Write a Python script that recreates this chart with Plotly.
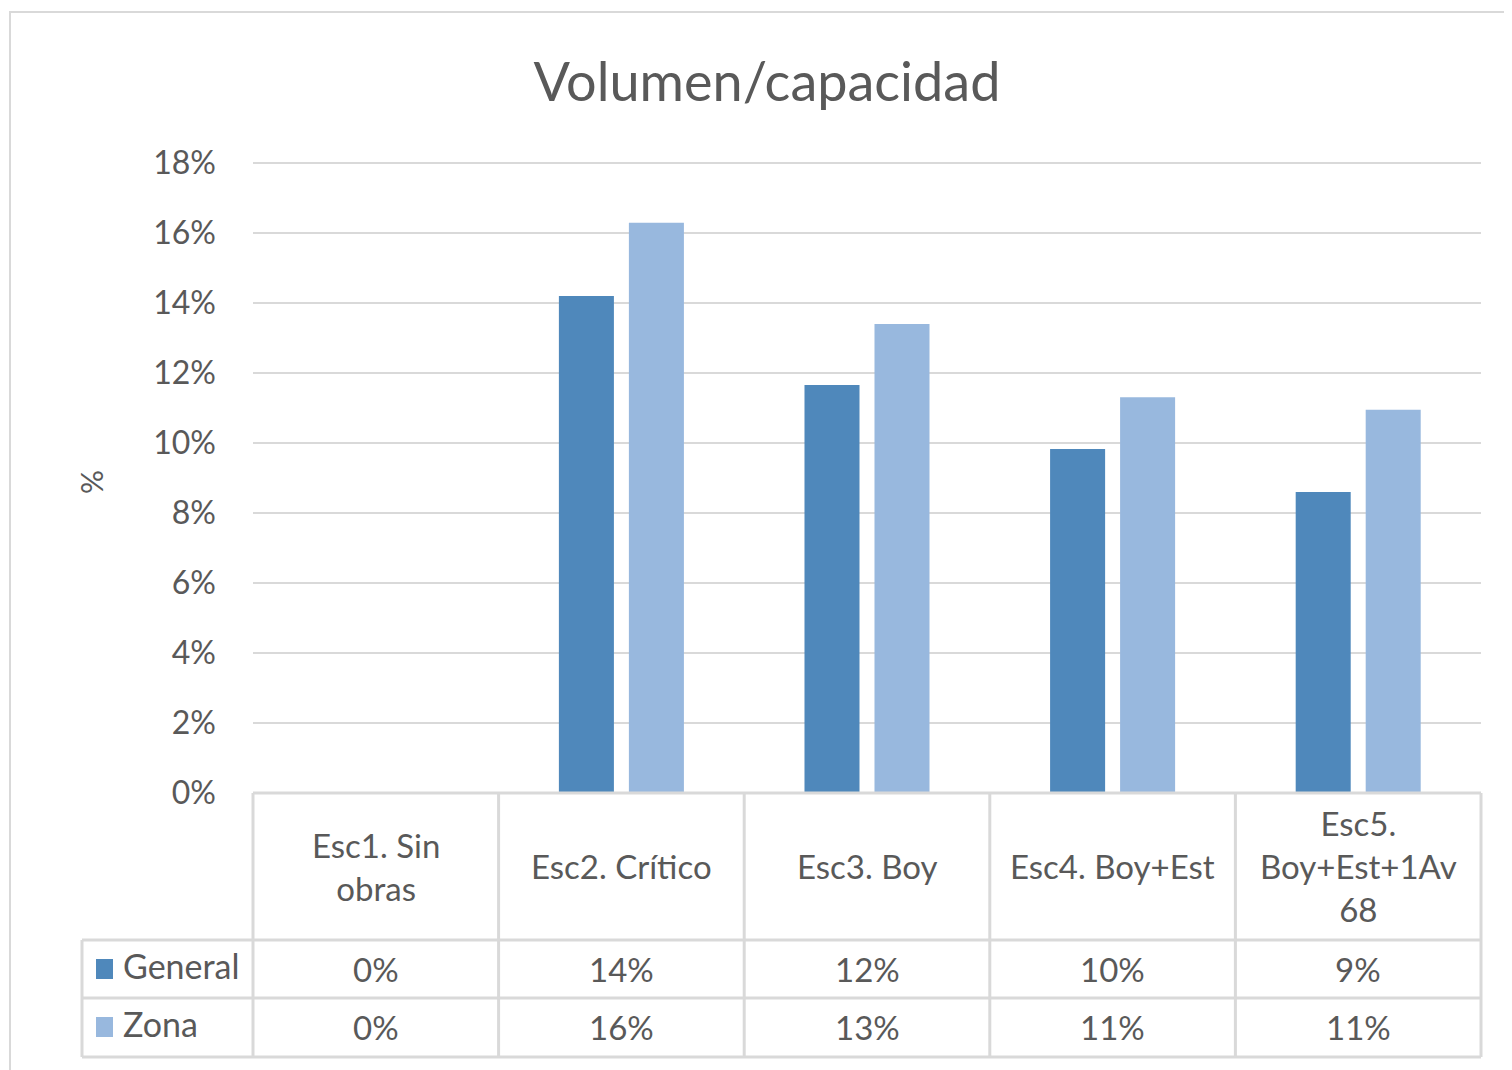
import plotly.graph_objects as go

categories = ["Esc1. Sin<br>obras", "Esc2. Crítico", "Esc3. Boy", "Esc4. Boy+Est", "Esc5.<br>Boy+Est+1Av<br>68"]
general = [0.0, 0.142, 0.1166, 0.0983, 0.086]
zona = [0.0, 0.1629, 0.134, 0.1131, 0.1095]
series_names = ["General", "Zona"]
colors = ["#4F88BB", "#98B8DE"]

OFF = 8  # page body margin
W, H = 1512 - OFF, 1070 - OFF
L, R, T, B = 253, 1481, 163, 793
TP = T - 4  # plot top a little above the 18% line so its gridline is kept
YMAX = 0.18 * (B - TP) / (B - T)
TXT = "#595959"
GRID = "#D9D9D9"
FONT = "Lato"


def px(x):
    # page pixel -> paper x
    return (x - L) / (R - L)


def py(y):
    # page pixel -> paper y
    return (B - y) / (B - TP)


fig = go.Figure()
for name, vals, col in zip(series_names, [general, zona], colors):
    fig.add_trace(go.Bar(x=list(range(len(categories))), y=vals, name=name,
                         marker=dict(color=col, line=dict(width=0))))

shapes = []
ann = []
n = len(categories)

# chart border
shapes.append(dict(type="rect", xref="paper", yref="paper", x0=px(10), x1=px(1530),
                   y0=py(1090), y1=py(12), line=dict(color=GRID, width=2)))

# data table lines
line = dict(color=GRID, width=3)
shapes.append(dict(type="line", xref="paper", yref="paper", x0=0, x1=1, y0=py(B), y1=py(B), line=line))
for yy in [940, 998, 1057]:
    shapes.append(dict(type="line", xref="paper", yref="paper", x0=px(82), x1=1, y0=py(yy), y1=py(yy), line=line))
for i in range(n + 1):
    shapes.append(dict(type="line", xref="paper", yref="paper", x0=i / n, x1=i / n,
                       y0=py(B), y1=py(1057), line=line))
shapes.append(dict(type="line", xref="paper", yref="paper", x0=px(82), x1=px(82),
                   y0=py(940), y1=py(1057), line=line))

# header cells
for i, c in enumerate(categories):
    ann.append(dict(x=(i + 0.5) / n, y=py(866), xref="paper", yref="paper", text=c,
                    showarrow=False, xanchor="center", yanchor="middle",
                    font=dict(size=33, color=TXT, family=FONT)))

# value rows with legend keys
for r, (name, vals, col) in enumerate(zip(series_names, [general, zona], colors)):
    yc = 969 + r * 58
    shapes.append(dict(type="rect", xref="paper", yref="paper", x0=px(96), x1=px(113),
                       y0=py(yc + 10), y1=py(yc - 10), fillcolor=col, line=dict(width=0)))
    ann.append(dict(x=px(121), y=py(yc - 4), xref="paper", yref="paper", text=name,
                    showarrow=False, xanchor="left", yanchor="middle",
                    font=dict(size=34, color=TXT, family=FONT)))
    for i, v in enumerate(vals):
        ann.append(dict(x=(i + 0.5) / n, y=py(yc), xref="paper", yref="paper",
                        text=f"{round(v * 100)}%", showarrow=False, xanchor="center",
                        yanchor="middle", font=dict(size=33, color=TXT, family=FONT)))

# y axis title
ann.append(dict(x=px(93), y=py(482), xref="paper", yref="paper", text="%", textangle=90,
                showarrow=False, xanchor="center", yanchor="middle",
                font=dict(size=30, color=TXT, family=FONT)))

fig.update_layout(
    width=W, height=H, autosize=False,
    margin=dict(l=L - OFF, r=1512 - R, t=TP - OFF, b=1070 - B),
    paper_bgcolor="white", plot_bgcolor="white",
    title=dict(text="Volumen/capacidad", x=px(767), xanchor="center", y=1 - (82 - OFF) / H,
               yanchor="middle", xref="paper", font=dict(size=54, color=TXT, family=FONT)),
    barmode="group", bargap=0.43, bargroupgap=0.214,
    showlegend=False,
    shapes=shapes, annotations=ann,
    font=dict(family=FONT, color=TXT),
)
fig.update_xaxes(range=[-0.5, n - 0.5], showticklabels=False, showgrid=False,
                 zeroline=False, showline=False, fixedrange=True)
fig.update_yaxes(range=[0, YMAX], tick0=0, dtick=0.02, tickformat=".0%", showgrid=True,
                 gridcolor=GRID, gridwidth=2, zeroline=False, showline=False,
                 ticklabelstandoff=36, tickfont=dict(size=32, color=TXT, family=FONT))

fig.write_html("out.html")
